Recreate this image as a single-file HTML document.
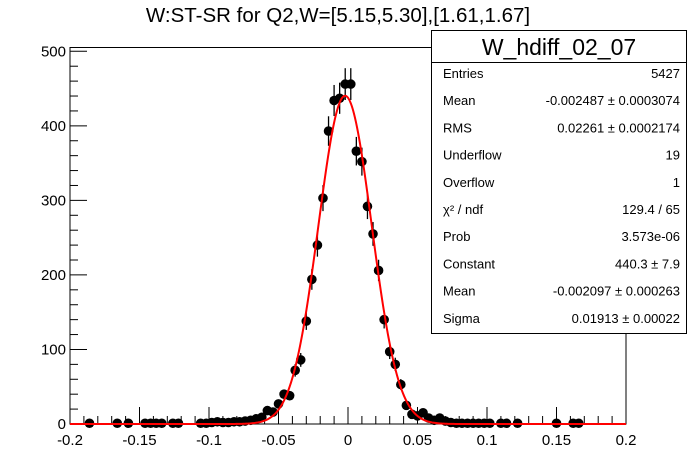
<!DOCTYPE html>
<html><head><meta charset="utf-8"><style>
body{margin:0;background:#fff;}
svg text{font-family:"Liberation Sans",sans-serif;}
</style></head><body>
<svg id="c" width="696" height="471" xmlns="http://www.w3.org/2000/svg">
<rect x="0" y="0" width="696" height="471" fill="#fff"/>
<text x="338" y="22" font-size="20.5" text-anchor="middle">W:ST-SR for Q2,W=[5.15,5.30],[1.61,1.67]</text>
<g id="axes"></g>
<g id="marks"></g>
<path id="fit" fill="none" stroke="#ff0000" stroke-width="2"/>
<g>
<rect x="431.5" y="30.5" width="255" height="303" fill="#fff" stroke="#000" stroke-width="1"/>
<line x1="431.5" y1="62.5" x2="686.5" y2="62.5" stroke="#000"/>
<text x="559" y="55" font-size="23" text-anchor="middle">W_hdiff_02_07</text>
<g font-size="13" id="stats"></g>
</g>
</svg>
<script>
const categoriesLo = -0.2, binWidth = 0.004;
const counts = [0,0,0,1,0,0,0,0,1,0, 1,0,0,1,1,1,1,0,1,1, 0,0,0,1,1,2,3,2,2,3,
 3,4,5,7,9,18,16,27,40,38, 72,86,138,194,240,303,393,434,437,456,
 456,366,352,292,255,206,140,97,80,53, 25,13,11,15,8,5,8,4,2,1,
 1,1,1,1,1,1,0,1,1,0, 1,0,0,0,0,0,0,1,0,0, 1,1,0,0,0,0,0,0,0,0];
const xTicks = [-0.2,-0.15,-0.1,-0.05,0,0.05,0.1,0.15,0.2];
const xTickLabels = ["-0.2","-0.15","-0.1","-0.05","0","0.05","0.1","0.15","0.2"];
const yTicks = [0,100,200,300,400,500];
const fitParams = [440.3, -0.002097, 0.01913];
const statLabels = ["Entries","Mean","RMS","Underflow","Overflow","χ² / ndf","Prob","Constant","Mean","Sigma"];
const statValues = ["5427","-0.002487  ± 0.0003074","0.02261 ± 0.0002174","19","1","129.4 / 65","3.573e-06","440.3  ± 7.9","-0.002097  ± 0.000263","0.01913  ± 0.00022"];

const NS="http://www.w3.org/2000/svg";
const L=70,R=626,T=47.5,B=424;
const xs=v=>L+(v+0.2)/0.4*(R-L);
const ys=v=>B-v*(B-51.3)/500;
function mk(tag,attrs,parent){const e=document.createElementNS(NS,tag);for(const k in attrs)e.setAttribute(k,attrs[k]);parent.appendChild(e);return e;}
const axes=document.getElementById('axes'), marks=document.getElementById('marks');
const frame=mk('rect',{x:L,y:T,width:R-L,height:B-T,fill:'none',stroke:'#000','stroke-width':1},axes);


for(let i=0;i<=40;i++){const v=-0.2+i*0.01;const x=xs(v);const major=i%5===0;
 const t=mk('line',{x1:x,y1:B,x2:x,y2:B-(major?17:8),stroke:'#000'},axes);
 
 }
xTicks.forEach((v,i)=>{const t=mk('text',{x:xs(v),y:445,'font-size':15,'text-anchor':'middle'},axes);t.textContent=xTickLabels[i];
 
 });
for(let i=0;i<=25;i++){const v=i*20;const y=ys(v);const major=i%5===0;
 const t=mk('line',{x1:L,y1:y,x2:L+(major?17:8),y2:y,stroke:'#000'},axes);
 
 }
yTicks.forEach(v=>{const t=mk('text',{x:66,y:ys(v)+5,'font-size':15,'text-anchor':'end'},axes);t.textContent=String(v);
 
 });
counts.forEach((n,k)=>{if(n<=0)return;const c=categoriesLo+binWidth*(k+0.5);const x=xs(c),y=ys(n);const e=Math.sqrt(n);
 const g=mk('g',{},marks);
 
 
 mk('line',{x1:x,y1:ys(n+e),x2:x,y2:Math.min(B,ys(n-e)),stroke:'#000','stroke-width':1.3},g);
 mk('line',{x1:xs(c-binWidth/2),y1:y,x2:xs(c+binWidth/2),y2:y,stroke:'#000','stroke-width':1},g);
 mk('circle',{cx:x,cy:y,r:4.8,fill:'#000'},g);});
let d='';for(let i=0;i<=556;i++){const v=-0.2+i*0.4/556;const f=fitParams[0]*Math.exp(-0.5*Math.pow((v-fitParams[1])/fitParams[2],2));d+=(i?'L':'M')+xs(v).toFixed(2)+','+ys(f).toFixed(2);}
document.getElementById('fit').setAttribute('d',d);
const st=document.getElementById('stats');
statLabels.forEach((lab,i)=>{const y=78+i*27.2;
 const a=mk('text',{x:443,y:y},st);a.textContent=lab;
 
 
 const b=mk('text',{x:680,y:y,'text-anchor':'end','xml:space':'preserve'},st);b.textContent=statValues[i];
 
 });
</script>
</body></html>
